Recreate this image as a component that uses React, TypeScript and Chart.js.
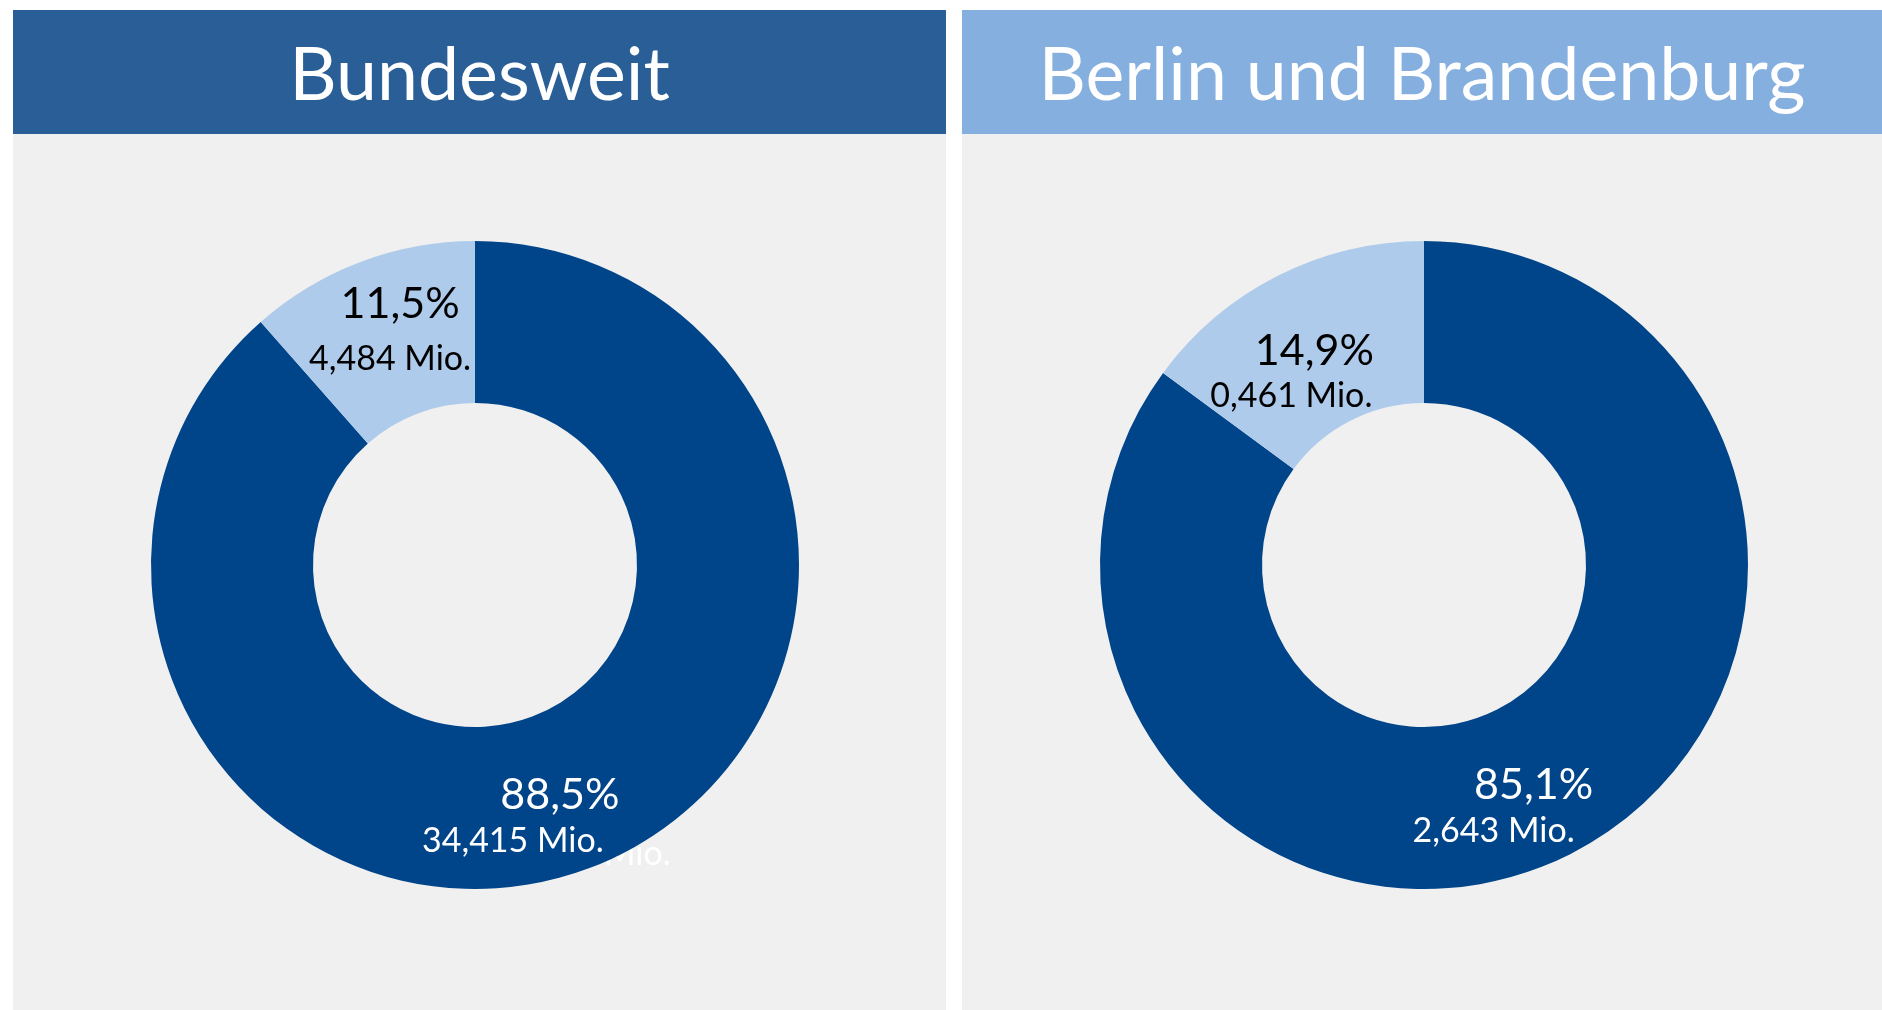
import React, { useEffect, useRef } from 'react';
import { Chart, registerables } from 'chart.js';

Chart.register(...registerables);

// ---- data ----
const categories = ['Übrige', 'Anteil'];
const panelTitles = ['Bundesweit', 'Berlin und Brandenburg'];
const bundesweitPercent = [88.5, 11.5];
const bundesweitMio = [34.415, 4.484];
const berlinBrandenburgPercent = [85.1, 14.9];
const berlinBrandenburgMio = [2.643, 0.461];

// ---- styles ----
const DARK = '#00448A';
const LIGHT = '#AECBEB';
const LABEL_COLORS = ['#FFFFFF', '#000000'];
const FONT = 'Lato, "Open Sans", sans-serif';
const PANEL_BG = '#F0F0F0';
const PCT_SIZE = 43;
const MIO_SIZE = 34;

const fmtPct = (v: number) => v.toFixed(1).replace('.', ',') + '%';
const fmtMio = (v: number) => v.toFixed(3).replace('.', ',') + ' Mio.';

type Off = { pct: [number, number]; mio: [number, number]; ghost?: [number, number] };

// label offsets relative to each slice's centroid (dark, light)
const bundesweitOffsets: Off[] = [
  { pct: [-1, 1], mio: [-48, 47], ghost: [19, 60] },
  { pct: [11, -35], mio: [1, 20] },
];
const bbOffsets: Off[] = [
  { pct: [0, 2], mio: [-40, 48] },
  { pct: [0, 1], mio: [-23, 47] },
];

function Donut(props: {
  percent: number[];
  mio: number[];
  offsets: Off[];
  width: number;
  height: number;
  padding: { left: number; right: number; top: number; bottom: number };
}) {
  const ref = useRef<HTMLCanvasElement | null>(null);
  useEffect(() => {
    if (!ref.current) return;
    const { percent, mio, offsets } = props;
    const drawLine = (ctx: CanvasRenderingContext2D, text: string, x: number, y: number, size: number, color: string) => {
      ctx.save();
      ctx.font = `${size}px ${FONT}`;
      ctx.fillStyle = color;
      ctx.textAlign = 'center';
      ctx.textBaseline = 'alphabetic';
      ctx.fillText(text, x, y + size * 0.36);
      ctx.restore();
    };
    const plugin = {
      id: 'sliceLabels',
      beforeDatasetsDraw(chart: any) {
        const meta = chart.getDatasetMeta(0);
        meta.data.forEach((arc: any, i: number) => {
          const o = offsets[i];
          if (!o.ghost) return;
          const p = arc.tooltipPosition();
          drawLine(chart.ctx, fmtMio(mio[i]), p.x + o.ghost[0], p.y + o.ghost[1], MIO_SIZE, LABEL_COLORS[i]);
        });
      },
      afterDatasetsDraw(chart: any) {
        const meta = chart.getDatasetMeta(0);
        meta.data.forEach((arc: any, i: number) => {
          const o = offsets[i];
          const p = arc.tooltipPosition();
          drawLine(chart.ctx, fmtPct(percent[i]), p.x + o.pct[0], p.y + o.pct[1], PCT_SIZE, LABEL_COLORS[i]);
          drawLine(chart.ctx, fmtMio(mio[i]), p.x + o.mio[0], p.y + o.mio[1], MIO_SIZE, LABEL_COLORS[i]);
        });
      },
    };
    const chart = new Chart(ref.current, {
      type: 'doughnut',
      data: {
        labels: categories,
        datasets: [
          {
            data: percent,
            backgroundColor: [DARK, LIGHT],
            borderWidth: 0,
            hoverBorderWidth: 0,
            hoverOffset: 0,
          },
        ],
      },
      options: {
        responsive: false,
        animation: false,
        cutout: '50%',
        rotation: 0,
        layout: { padding: props.padding },
        plugins: {
          legend: { display: false },
          tooltip: { enabled: false },
          title: { display: false },
        },
        events: [],
      },
      plugins: [plugin],
    });
    return () => chart.destroy();
  }, []);
  return <canvas ref={ref} width={props.width} height={props.height} style={{ display: 'block' }} />;
}

function Panel(props: {
  left: number;
  width: number;
  title: string;
  headerColor: string;
  children: React.ReactNode;
}) {
  return (
    <div
      style={{
        position: 'absolute',
        left: props.left,
        top: 10,
        width: props.width,
        height: 1000,
        background: PANEL_BG,
      }}
    >
      <div
        style={{
          height: 124,
          background: props.headerColor,
          color: '#FFFFFF',
          fontFamily: FONT,
          fontSize: 73.5,
          display: 'flex',
          alignItems: 'center',
          justifyContent: 'center',
          lineHeight: '124px',
          whiteSpace: 'nowrap',
        }}
      >
        {props.title}
      </div>
      {props.children}
    </div>
  );
}

export default function App() {
  return (
    <div style={{ position: 'absolute', left: 0, top: 0, width: 1882, height: 1010, background: '#FFFFFF', overflow: 'hidden' }}>
      <Panel left={13} width={933} title={panelTitles[0]} headerColor="#2A5E96">
        <Donut
          percent={bundesweitPercent}
          mio={bundesweitMio}
          offsets={bundesweitOffsets}
          width={933}
          height={876}
          padding={{ left: 0, right: 9, top: 107, bottom: 121 }}
        />
      </Panel>
      <Panel left={962} width={920} title={panelTitles[1]} headerColor="#84AFDF">
        <Donut
          percent={berlinBrandenburgPercent}
          mio={berlinBrandenburgMio}
          offsets={bbOffsets}
          width={920}
          height={876}
          padding={{ left: 4, right: 0, top: 107, bottom: 121 }}
        />
      </Panel>
    </div>
  );
}
